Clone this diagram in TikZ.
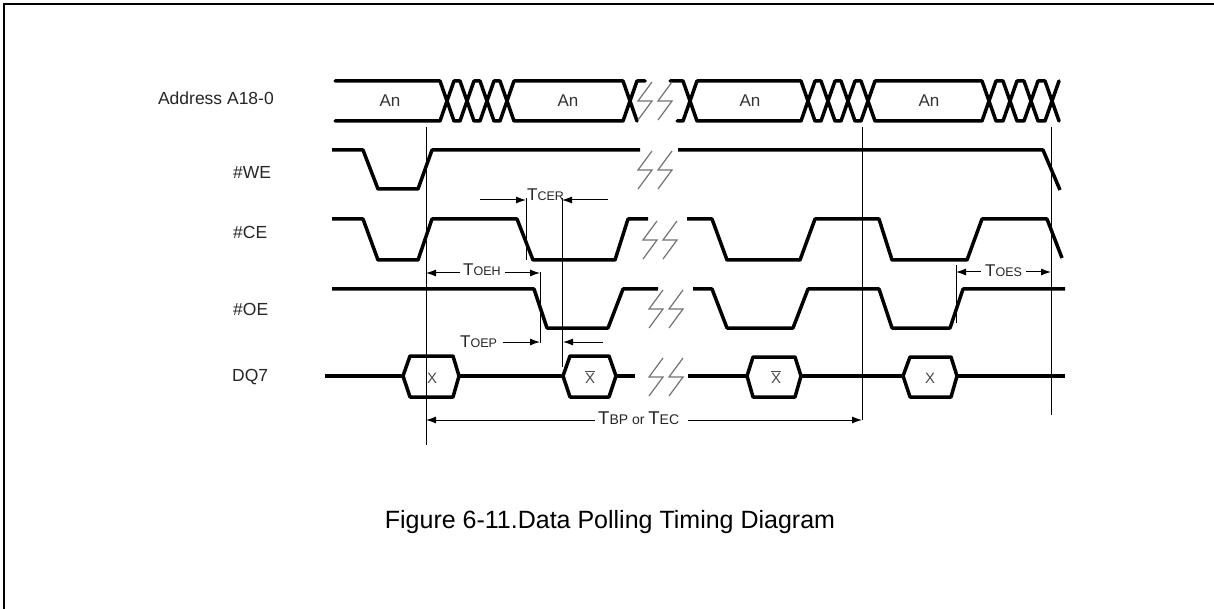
\documentclass[tikz,border=0pt]{standalone}
\usepackage{fontspec}
\setmainfont{Liberation Sans}
\usetikzlibrary{arrows.meta}
\begin{document}
\begin{tikzpicture}[x=1pt,y=-1pt,
  sig/.style={line width=3.5pt, line join=round},
  bus/.style={line width=3.5pt, line join=round, line cap=round},
  thinln/.style={line width=1pt},
  dimarr/.style={line width=1pt, -{Latex[length=10pt,width=7pt]}},
  brk/.style={black!55, line width=1.2pt},
  lbl/.style={font=\fontsize{17.5}{18}\selectfont, inner sep=0pt, text=black!85},
  anl/.style={font=\fontsize{17}{18}\selectfont, inner sep=0pt, text=black!80},
  xl/.style={font=\fontsize{15}{16}\selectfont, inner sep=0pt, text=black!70},
  tl/.style={inner sep=0pt, anchor=base west, text=black!85},
  brkpic/.pic={
    \draw[brk] (15,-19) -- (1,0) -- (15,0) -- (1,19);
    \draw[brk] (35,-19) -- (21,0) -- (35,0) -- (21,19);
  }
]
\newcommand{\Tbig}{\fontsize{17}{18}\selectfont}
\newcommand{\Tsub}{\fontsize{12.5}{13}\selectfont}
\useasboundingbox (0,0) rectangle (1214,609);
\fill[white] (0,0) rectangle (1214,609);
% frame
\draw[line width=2pt] (4,609) -- (4,4) -- (1214,4);

% signal labels
\node[lbl, anchor=east] (la) at (274,98) {Address A18-0};
\node[lbl, anchor=west] (lwe) at (233,172) {\#WE};
\node[lbl, anchor=west] (lce) at (233,232) {\#CE};
\node[lbl, anchor=west] (loe) at (233,309) {\#OE};
\node[lbl, anchor=west] (ldq) at (232,377) {DQ7};

% address bus
\draw[bus] (335,81) -- (440,81) -- (454,121) -- (460,121) -- (474,81) -- (480,81) -- (494,121) -- (500,121) -- (514,81) -- (623,81) -- (637,121);
\draw[bus] (335,121) -- (440,121) -- (454,81) -- (460,81) -- (474,121) -- (480,121) -- (494,81) -- (500,81) -- (514,121) -- (623,121) -- (637,81) -- (645,81);
\draw[bus] (670,81) -- (683,81) -- (697,121) -- (801,121) -- (815,81) -- (821,81) -- (835,121) -- (841,121) -- (855,81) -- (861,81) -- (875,121) -- (982,121) -- (996,81) -- (1003,81) -- (1017,121) -- (1024,121) -- (1038,81) -- (1045,81) -- (1059,121);
\draw[bus] (677,121) -- (683,121) -- (697,81) -- (801,81) -- (815,121) -- (821,121) -- (835,81) -- (841,81) -- (855,121) -- (861,121) -- (875,81) -- (982,81) -- (996,121) -- (1003,121) -- (1017,81) -- (1024,81) -- (1038,121) -- (1045,121) -- (1059,81);
\node[anl] (an1) at (390,101) {An};
\node[anl] (an2) at (568,101) {An};
\node[anl] (an3) at (750,101) {An};
\node[anl] (an4) at (929,101) {An};

% WE
\draw[sig] (332,150) -- (363,150) -- (378,189) -- (418,189) -- (432,150) -- (640,150);
\draw[sig] (678,150) -- (1043,150) -- (1060,190);

% CE
\draw[sig] (332,219) -- (363,219) -- (378,260) -- (418,260) -- (432,219) -- (517,219) -- (533,260) -- (615,260) -- (628,219) -- (648,219);
\draw[sig] (687,219) -- (712,219) -- (727,260) -- (800,260) -- (815,219) -- (879,219) -- (892,260) -- (967,260) -- (982,219) -- (1047,219) -- (1062,258);

% OE
\draw[sig] (332,289) -- (534,289) -- (547,328) -- (608,328) -- (623,289) -- (658,289);
\draw[sig] (693,289) -- (712,289) -- (727,328) -- (793,328) -- (808,289) -- (879,289) -- (892,328) -- (950,328) -- (963,289) -- (1065,289);

% DQ7
\draw[sig] (325,376) -- (403,376);
\draw[sig] (403,376) -- (410,356) -- (453,356) -- (459,376) -- (453,397) -- (410,397) -- cycle;
\draw[sig] (459,376) -- (563,376);
\draw[sig] (563,376) -- (570,356) -- (609,356) -- (616,376) -- (609,397) -- (570,397) -- cycle;
\draw[sig] (616,376) -- (635,376);
\draw[sig] (688,376) -- (747,376);
\draw[sig] (747,376) -- (753,357) -- (795,357) -- (801,376) -- (795,397) -- (753,397) -- cycle;
\draw[sig] (801,376) -- (903,376);
\draw[sig] (903,376) -- (910,357) -- (951,357) -- (957,376) -- (951,397) -- (910,397) -- cycle;
\draw[sig] (957,376) -- (1065,376);
\node[xl] (x1) at (432,378) {X};
\node[xl] (x2) at (590,377) {$\overline{\mbox{X}}$};
\node[xl] (x3) at (776,377) {$\overline{\mbox{X}}$};
\node[xl] (x4) at (930,378) {X};

% break symbols
\pic at (637,101) {brkpic};
\pic at (637,170) {brkpic};
\pic at (642,240) {brkpic};
\pic at (648,309) {brkpic};
\pic at (648,377) {brkpic};

% reference lines
\coordinate (v1t) at (426,127); \coordinate (v1b) at (426,445);
\coordinate (v2t) at (862,127); \coordinate (v2b) at (862,420);
\coordinate (v3t) at (1051,127); \coordinate (v3b) at (1051,415);
\draw[thinln] (v1t) -- (v1b);
\draw[thinln] (v2t) -- (v2b);
\draw[thinln] (v3t) -- (v3b);
\draw[thinln] (526,198) -- (526,260);
\draw[thinln] (562,198) -- (562,367);
\draw[thinln] (540,272) -- (540,343);
\draw[thinln] (956,265) -- (956,323);

% TCER
\draw[dimarr] (480,200) -- (526,200);
\draw[dimarr] (608,200) -- (562,200);
\node[tl] (tcer) at (527,201) {{\Tbig T}{\Tsub CER}};
% TOEH
\draw[dimarr] (460,273) -- (426,273);
\draw[dimarr] (505,273) -- (540,273);
\node[tl] (toeh) at (463,276) {{\Tbig T}{\Tsub OEH}};
% TOEP
\node[tl] (toep) at (460,347) {{\Tbig T}{\Tsub OEP}};
\draw[dimarr] (503,342) -- (540,342);
\draw[dimarr] (603,342) -- (563,342);
% TOES
\draw[dimarr] (981,272) -- (956,272);
\draw[dimarr] (1026,272) -- (1051,272);
\node[tl] (toes) at (985,277) {{\Tbig T}{\Tsub OES}};
% TBP or TEC
\draw[dimarr] (595,420) -- (426,420);
\draw[dimarr] (688,420) -- (862,420);
\node[tl] (tbp) at (598,424) {{\fontsize{18.5}{19}\selectfont T}{\fontsize{14}{15}\selectfont BP or }{\fontsize{18.5}{19}\selectfont T}{\fontsize{14}{15}\selectfont EC}};

% caption
\node[inner sep=0pt, font=\fontsize{25}{27}\selectfont] (cap) at (610,522) {Figure 6-11.Data Polling Timing Diagram};
\end{tikzpicture}
\end{document}
